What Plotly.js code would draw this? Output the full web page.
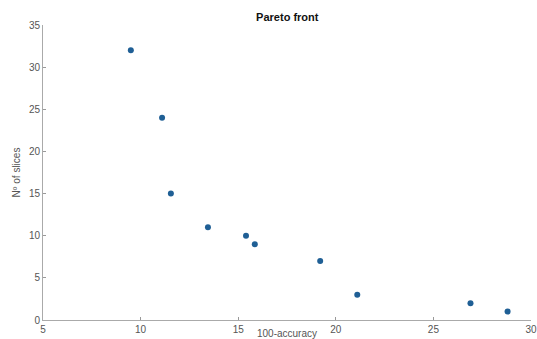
<!DOCTYPE html>
<html>
<head>
<meta charset="utf-8">
<script src="https://cdn.plot.ly/plotly-3.0.1.min.js"></script>
<style>html,body{margin:0;padding:0;background:#fff;}#chart{width:537px;height:339px;}</style>
</head>
<body>
<div id="chart"></div>
<script>
const accuracyLoss = [9.5, 11.1, 11.55, 13.45, 15.4, 15.85, 19.2, 21.1, 26.9, 28.8];
const numSlices = [32, 24, 15, 11, 10, 9, 7, 3, 2, 1];
const xTicks = [5, 10, 15, 20, 25, 30];
const yTicks = [0, 5, 10, 15, 20, 25, 30, 35];

const trace = {
  x: accuracyLoss,
  y: numSlices,
  mode: 'markers',
  type: 'scatter',
  marker: {color: '#1f5f95', size: 6},
  hoverinfo: 'x+y'
};

const axisFont = {family: 'Liberation Sans, Arial, sans-serif', size: 10, color: '#555'};

const layout = {
  width: 537,
  height: 339,
  margin: {l: 43, r: 6, t: 25, b: 19},
  paper_bgcolor: '#fff',
  plot_bgcolor: '#fff',
  showlegend: false,
  title: {
    text: '<b>Pareto front</b>',
    font: {family: 'Liberation Sans, Arial, sans-serif', size: 11, color: '#111'},
    x: 0.535, xanchor: 'center', y: 0.95, yanchor: 'middle'
  },
  xaxis: {
    range: [5, 30],
    tickvals: xTicks,
    ticks: 'inside', ticklen: 3, tickcolor: '#999',
    showline: true, linecolor: '#aaa', linewidth: 1,
    showgrid: false, zeroline: false,
    tickfont: axisFont,
    title: {text: '100-accuracy', font: axisFont, standoff: 6},
    automargin: false
  },
  yaxis: {
    range: [0, 35],
    tickvals: yTicks,
    ticks: 'inside', ticklen: 3, tickcolor: '#999',
    showline: true, linecolor: '#aaa', linewidth: 1,
    showgrid: false, zeroline: false,
    tickfont: axisFont,
    title: {text: 'Nº of slices', font: axisFont, standoff: 6},
    automargin: false
  }
};

Plotly.newPlot('chart', [trace], layout, {displayModeBar: false, staticPlot: true});
</script>
</body>
</html>
